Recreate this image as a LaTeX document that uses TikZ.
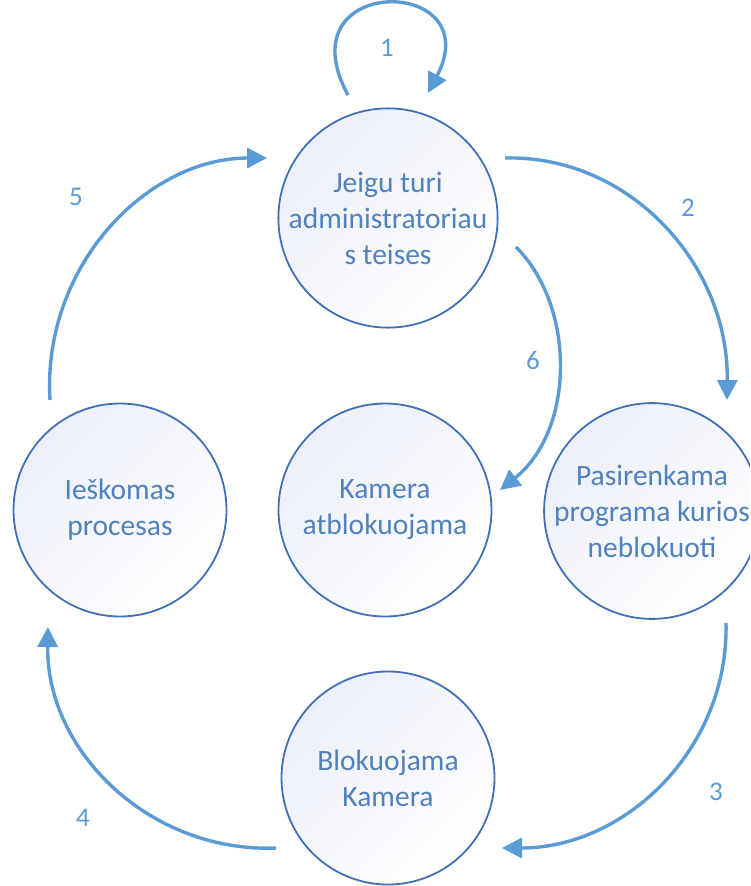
\documentclass[tikz,border=0pt]{standalone}
\usepackage{fontspec}
\setmainfont{Carlito}
\usetikzlibrary{arrows.meta,calc}
\definecolor{ringblue}{RGB}{65,113,180}
\definecolor{textblue}{RGB}{79,129,189}
\definecolor{arrowblue}{RGB}{91,155,213}
\definecolor{lavender}{RGB}{236,239,249}

\begin{document}
\begin{tikzpicture}[x=1pt,y=-1pt,
  state/.style={circle, draw=ringblue, line width=1.8pt, minimum size=213pt,
    inner sep=0pt, top color=lavender, bottom color=white, shading angle=45,
    text=textblue, align=center, font=\fontsize{29.5}{36}\selectfont},
  flow/.style={draw=arrowblue, line width=3.4pt,
    -{Triangle[length=20pt,width=20pt]}},
  num/.style={text=arrowblue, font=\fontsize{27}{32}\selectfont}]

\useasboundingbox (0,0) rectangle (750,886);
\clip (0,0) rectangle (750,886);

% states
\node[state] (admin)  at (388,218) {Jeigu turi\\administratoriau\\s teises};
\node[state] (search) at (120,510) {Ieškomas\\procesas};
\node[state] (unlock) at (385,510) {Kamera\\atblokuojama};
\node[state] (pick)   at (652,511) {Pasirenkama\\programa kurios\\neblokuoti};
\node[state] (block)  at (388,778) {Blokuojama\\Kamera};

% transitions
\draw[flow] ($(admin)+(-40,-123)$) .. controls +(-66,-122) and +(62,-118) .. ($(admin)+(40,-125)$);
\draw[flow] ($(admin)+(117,-60)$) .. controls +(125,-3) and +(2,-135) .. ($(pick)+(75,-111)$);
\draw[flow] ($(admin)+(128,29)$) .. controls +(60,60) and +(75,-60) .. ($(unlock)+(115,-20)$);
\draw[flow] ($(pick)+(74,112)$) .. controls +(3,125) and +(124,0) .. ($(block)+(114,70)$);
\draw[flow] ($(block)+(-112,70)$) .. controls +(-125,5) and +(-2,125) .. ($(search)+(-72,117)$);
\draw[flow] ($(search)+(-70,-110)$) .. controls +(-8,-134) and +(-120,0) .. ($(admin)+(-121,-60)$);

% transition numbers
\node[num] (n1) at (387,48)  {1};
\node[num] (n2) at (688,208) {2};
\node[num] (n3) at (716,792) {3};
\node[num] (n4) at (83,818)  {4};
\node[num] (n5) at (76,197)  {5};
\node[num] (n6) at (533,360) {6};
\end{tikzpicture}
\end{document}
